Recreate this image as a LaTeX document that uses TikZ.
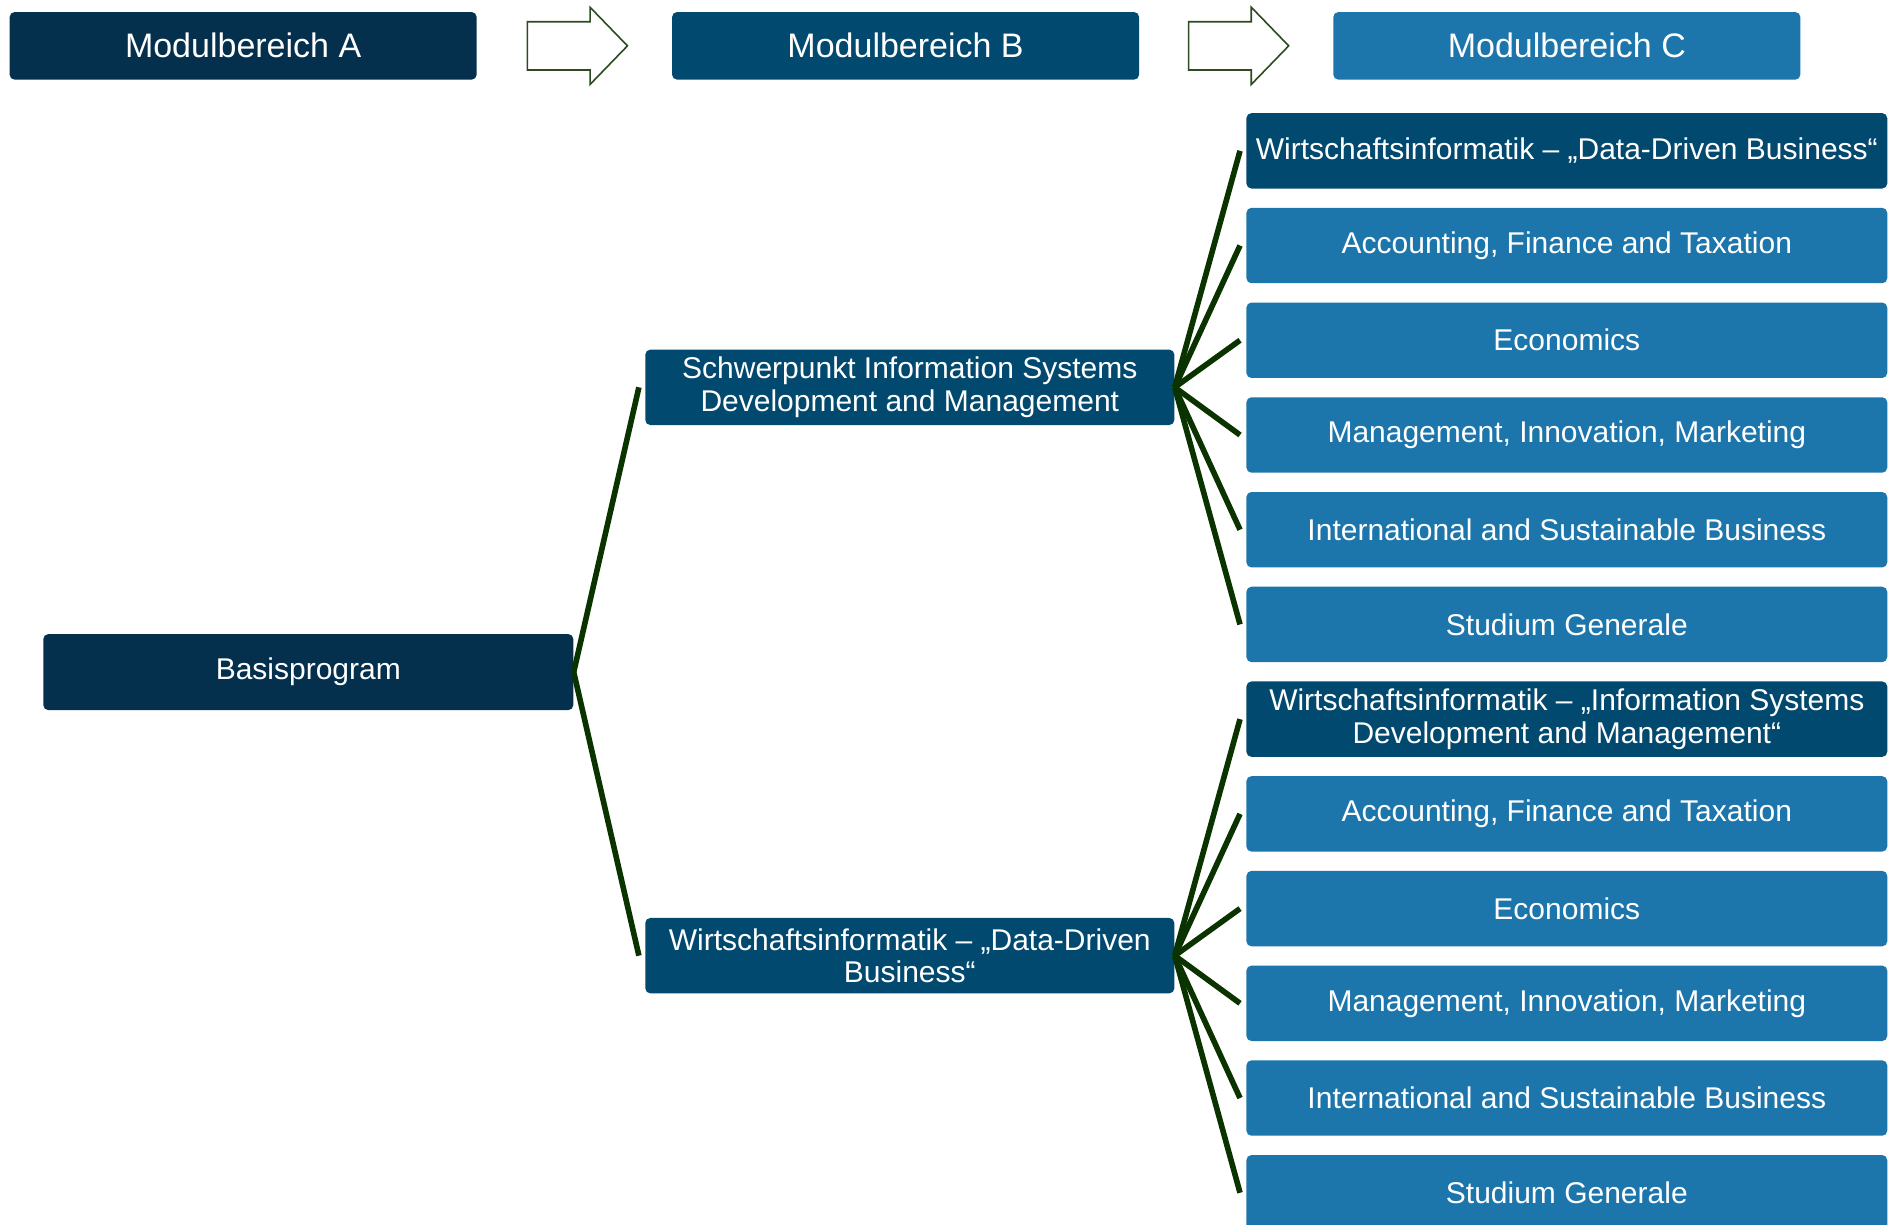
\documentclass[tikz,border=0pt]{standalone}
\usepackage{fontspec}
\setmainfont{Liberation Sans}
\definecolor{navyA}{HTML}{04304D}
\definecolor{blueB}{HTML}{02496F}
\definecolor{blueC}{HTML}{1C75AB}
\definecolor{lineGreen}{HTML}{0A3300}
\definecolor{arrowGreen}{HTML}{2E4A1F}
\begin{document}
\begin{tikzpicture}[x=0.6033pt,y=-0.6033pt,
  box/.style={rounded corners=2.5pt, text=white, inner sep=1pt, align=center,
    font=\fontsize{15}{16.3}\selectfont, minimum height=37.7pt},
  hdr/.style={box, font=\fontsize{17}{20}\selectfont, minimum width=233.5pt, minimum height=33.8pt},
  colbox/.style={box, minimum width=320.4pt},
  midbox/.style={box, minimum width=264.5pt},
  conn/.style={draw=lineGreen, line width=2.8pt},
  blockarrow/.style={draw=arrowGreen, fill=white, line width=0.8pt}]
\useasboundingbox[fill=white] (0,0) rectangle (1568,1015);

% headers
\node[hdr, fill=navyA] (hA) at (201.5,38) {Modulbereich A};
\node[hdr, fill=blueB] (hB) at (750.5,38) {Modulbereich B};
\node[hdr, fill=blueC] (hC) at (1298.5,38) {Modulbereich C};

% block arrows
\draw[blockarrow] (437,18) -- (489,18) -- (489,6) -- (520,38) -- (489,70) -- (489,58) -- (437,58) -- cycle;
\draw[blockarrow] (985,18) -- (1037,18) -- (1037,6) -- (1068,38) -- (1037,70) -- (1037,58) -- (985,58) -- cycle;

% column A
\node[box, fill=navyA, minimum width=265pt, minimum height=38pt] (basis) at (255.5,557) {Basisprogram};

% column B
\node[midbox, fill=blueB] (S) at (754,321) {Schwerpunkt Information Systems\\Development and Management};
\node[midbox, fill=blueB] (W) at (754,792) {Wirtschaftsinformatik – „Data-Driven\\Business“};

% column C, upper group
\node[colbox, fill=blueB] (r1) at (1298.5,125) {Wirtschaftsinformatik – „Data-Driven Business“};
\node[colbox, fill=blueC] (r2) at (1298.5,203.5) {Accounting, Finance and Taxation};
\node[colbox, fill=blueC] (r3) at (1298.5,282) {Economics};
\node[colbox, fill=blueC] (r4) at (1298.5,360.5) {Management, Innovation, Marketing};
\node[colbox, fill=blueC] (r5) at (1298.5,439) {International and Sustainable Business};
\node[colbox, fill=blueC] (r6) at (1298.5,517.5) {Studium Generale};

% column C, lower group
\node[colbox, fill=blueB] (q1) at (1298.5,596) {Wirtschaftsinformatik – „Information Systems\\Development and Management“};
\node[colbox, fill=blueC] (q2) at (1298.5,674.5) {Accounting, Finance and Taxation};
\node[colbox, fill=blueC] (q3) at (1298.5,753) {Economics};
\node[colbox, fill=blueC] (q4) at (1298.5,831.5) {Management, Innovation, Marketing};
\node[colbox, fill=blueC] (q5) at (1298.5,910) {International and Sustainable Business};
\node[colbox, fill=blueC] (q6) at (1298.5,988.5) {Studium Generale};

% connectors
\draw[conn] (basis.east) -- ([xshift=-3pt]S.west);
\draw[conn] (basis.east) -- ([xshift=-3pt]W.west);
\foreach \i in {1,...,6} {
  \draw[conn] (S.east) -- ([xshift=-3pt]r\i.west);
  \draw[conn] (W.east) -- ([xshift=-3pt]q\i.west);
}
\end{tikzpicture}
\end{document}
